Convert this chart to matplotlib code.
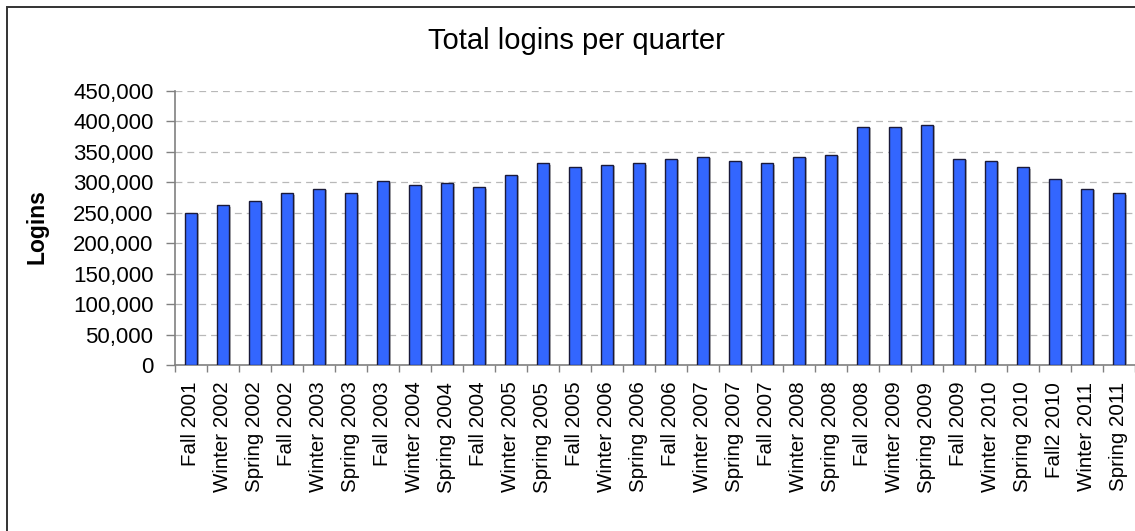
import matplotlib
matplotlib.use("Agg")
import matplotlib.pyplot as plt
import matplotlib.patheffects as pe
from matplotlib.patches import Rectangle
from matplotlib.ticker import FuncFormatter, MultipleLocator, FixedLocator
import numpy as np

quarters = ["Fall 2001", "Winter 2002", "Spring 2002", "Fall 2002", "Winter 2003",
            "Spring 2003", "Fall 2003", "Winter 2004", "Spring 2004", "Fall 2004",
            "Winter 2005", "Spring 2005", "Fall 2005", "Winter 2006", "Spring 2006",
            "Fall 2006", "Winter 2007", "Spring 2007", "Fall 2007", "Winter 2008",
            "Spring 2008", "Fall 2008", "Winter 2009", "Spring 2009", "Fall 2009",
            "Winter 2010", "Spring 2010", "Fall2 2010", "Winter 2011", "Spring 2011"]
logins = [249500, 262500, 269000, 282000, 289000,
          282000, 302000, 295500, 299000, 292000,
          312000, 331500, 325000, 328500, 331500,
          338500, 341500, 335000, 331500, 341500,
          345000, 391000, 391000, 394000, 338500,
          335000, 325000, 305500, 289000, 282000]

plt.rcParams['font.family'] = ['Liberation Sans', 'DejaVu Sans']

W, H = 1135, 531
fig = plt.figure(figsize=(W / 100, H / 100), dpi=100)

# outer chart border (cropped at right/bottom)
fig.patches.append(Rectangle((7 / W, -0.1), 1.2, (H - 7) / H + 0.1, transform=fig.transFigure,
                             fill=False, edgecolor="#333333", linewidth=1.4))

ax = fig.add_axes([175 / W, 166 / H, 960 / W, 274 / H])
x = np.arange(len(quarters))
bars = ax.bar(x, logins, width=0.385, color="#3366FF", edgecolor="#1a1a3a",
              linewidth=1.0, zorder=3)
for b in bars:
    b.set_path_effects([pe.SimplePatchShadow(offset=(1.5, -1), shadow_rgbFace="#888888", alpha=0.6),
                        pe.Normal()])

ax.set_xlim(-0.5, len(quarters) - 0.5)
ax.set_ylim(0, 450000)
ax.yaxis.set_major_locator(MultipleLocator(50000))
ax.yaxis.set_major_formatter(FuncFormatter(lambda v, p: f"{int(v):,}"))
ax.yaxis.grid(True, color="#b8b8b8", linestyle=(0, (5.5, 4)), linewidth=0.9, zorder=0)
ax.set_axisbelow(True)

ax.set_xticks(x)
ax.set_xticklabels(quarters, rotation=90)
ax.xaxis.set_minor_locator(FixedLocator(np.arange(-0.5, len(quarters), 1.0)))
ax.tick_params(axis='x', which='major', length=0, pad=12, labelsize=14.8)
ax.tick_params(axis='x', which='minor', length=5, width=1, color="#808080", direction='out')
ax.tick_params(axis='y', which='major', length=6.5, width=1, color="#808080",
               direction='out', pad=9, labelsize=16)

for s in ["top", "right"]:
    ax.spines[s].set_visible(False)
for s in ["left", "bottom"]:
    ax.spines[s].set_color("#808080")
    ax.spines[s].set_linewidth(1.2)

fig.text(576 / W, 1 - 41 / H, "Total logins per quarter", ha="center", va="center", fontsize=21)
fig.text(37 / W, 1 - 227 / H, "Logins", ha="center", va="center", rotation=90,
         fontsize=16.5, fontweight="bold")

fig.savefig("out.png", dpi=100)
